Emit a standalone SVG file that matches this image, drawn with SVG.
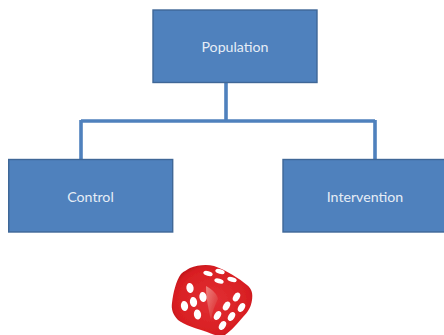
<svg xmlns="http://www.w3.org/2000/svg" width="444" height="335" viewBox="0 0 444 335">
<style>
.box{fill:#4f81bd;stroke:#3f6797;stroke-width:1.4}
.lbl{font-family:"Lato","Carlito","Open Sans",sans-serif;font-size:14.2px;fill:#e6edf6;text-anchor:middle}
.conn{fill:none;stroke:#4f81bd;stroke-width:3.6}
.pip{fill:#fff}
</style>
<defs>
<radialGradient id="dieFill" cx="0.5" cy="0.5" r="0.62">
<stop offset="0" stop-color="#e23034"/>
<stop offset="0.75" stop-color="#d81e22"/>
<stop offset="1" stop-color="#a80c12"/>
</radialGradient>
<linearGradient id="facet" x1="0" y1="0" x2="1" y2="1">
<stop offset="0" stop-color="#f29a94"/>
<stop offset="1" stop-color="#d81e22"/>
</linearGradient>
<filter id="soft" x="-10%" y="-10%" width="120%" height="120%"><feGaussianBlur stdDeviation="0.6"/></filter>
</defs>
<g id="connectors">
<path class="conn" d="M226 83V121"/>
<path class="conn" d="M81 121H375"/>
<path class="conn" d="M81 120V159"/>
<path class="conn" d="M375 120V159"/>
</g>
<g id="population">
<rect class="box" x="153" y="10" width="164" height="72.5"/>
<text class="lbl" x="235" y="52">Population</text>
</g>
<g id="control">
<rect class="box" x="8.7" y="159.5" width="164" height="72.5"/>
<text class="lbl" x="90.5" y="201.500">Control</text>
</g>
<g id="intervention">
<rect class="box" x="283" y="159.5" width="162" height="72.5"/>
<text class="lbl" x="365" y="201.500">Intervention</text>
</g>
<g id="die" filter="url(#soft)">
<path fill="url(#dieFill)" d="M190 268C197 265 207 264 214 266C226 270 240 279 247 285C252 289 253 294 252 300C251 307 248 312 243 317C238 323 231 331 225 335C220 337 214 335 207 332C198 329 184 325 178 320C173 315 171 309 172 303C173 293 176 281 181 274C184 271 187 270 190 268Z"/>
<path fill="url(#facet)" opacity="0.8" d="M206 286C213 290 217 294 218 299C215 305 212 312 211 320C209 310 206 300 206 286Z"/>
<ellipse class="pip" cx="208" cy="273.5" rx="4.800" ry="2.400" transform="rotate(15 208 273.500)"/>
<ellipse class="pip" cx="220" cy="271.500" rx="4.800" ry="2.400" transform="rotate(15 220 271.500)"/>
<ellipse class="pip" cx="232" cy="279.500" rx="4.800" ry="2.400" transform="rotate(15 232 279.500)"/>
<ellipse class="pip" cx="219" cy="281" rx="4.800" ry="2.400" transform="rotate(15 219 281)"/>
<ellipse class="pip" cx="190" cy="288" rx="3.600" ry="5" transform="rotate(-10 190 288)"/>
<ellipse class="pip" cx="203" cy="297" rx="3.600" ry="5" transform="rotate(-10 203 297)"/>
<ellipse class="pip" cx="193.500" cy="302" rx="3.600" ry="5" transform="rotate(-10 193.500 302)"/>
<ellipse class="pip" cx="184.500" cy="306" rx="3.600" ry="5" transform="rotate(-10 184.500 306)"/>
<ellipse class="pip" cx="197.500" cy="314.500" rx="3.600" ry="5" transform="rotate(-10 197.500 314.500)"/>
<ellipse class="pip" cx="236.500" cy="297" rx="3.200" ry="4.800" transform="rotate(30 236.500 297)"/>
<ellipse class="pip" cx="226.500" cy="306" rx="3.200" ry="4.800" transform="rotate(30 226.500 306)"/>
<ellipse class="pip" cx="241.500" cy="307.500" rx="3.200" ry="4.800" transform="rotate(30 241.500 307.500)"/>
<ellipse class="pip" cx="217.500" cy="315.500" rx="3.200" ry="4.800" transform="rotate(30 217.500 315.500)"/>
<ellipse class="pip" cx="231.500" cy="316.500" rx="3.200" ry="4.800" transform="rotate(30 231.500 316.500)"/>
<ellipse class="pip" cx="222.500" cy="325.500" rx="3.200" ry="4.800" transform="rotate(30 222.500 325.500)"/>
</g>
</svg>
